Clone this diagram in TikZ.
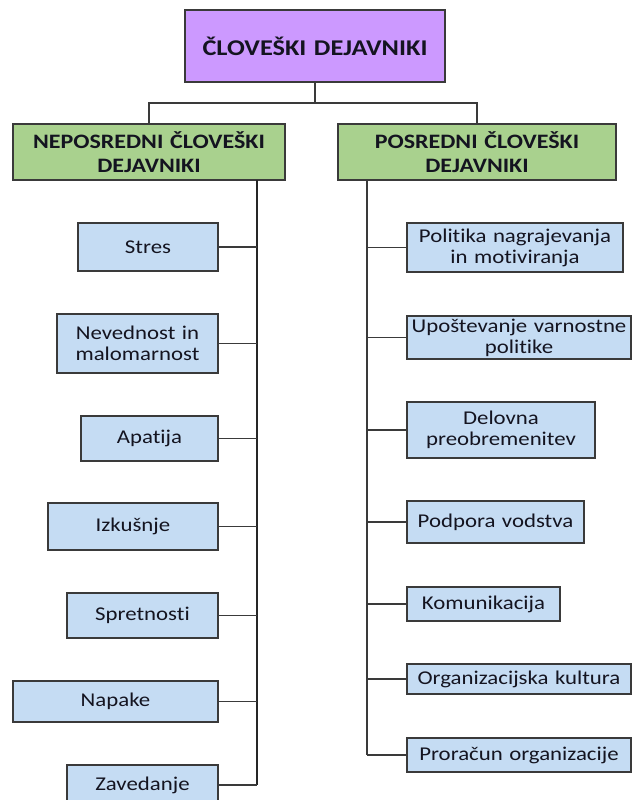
\documentclass[tikz,border=0pt]{standalone}
\usepackage{fontspec}
\setmainfont{Carlito}[FakeStretch=1.17,RawFeature={-liga}]
\definecolor{topfill}{HTML}{CC99FF}
\definecolor{greenfill}{HTML}{A9D18E}
\definecolor{bluefill}{HTML}{C5DCF3}
\definecolor{edge}{HTML}{3A3A3A}
\definecolor{txt}{HTML}{141420}
\tikzset{
  basebox/.style={draw=edge, line width=1.5pt, inner sep=0pt, align=center, text=txt},
  topbox/.style={basebox, fill=topfill, minimum width=260pt, minimum height=72pt, text width=250pt,
     font=\fontsize{22.5}{26}\selectfont\bfseries},
  greenbox/.style={basebox, fill=greenfill, minimum height=56pt, minimum width=#1, text width=#1-6pt,
     font=\fontsize{20.5}{24}\selectfont\bfseries},
  bluebox/.style n args={2}{basebox, fill=bluefill, minimum width=#1, minimum height=#2, text width=#1-4pt,
     font=\fontsize{19.5}{21}\selectfont},
  conn/.style={draw=edge, line width=1.5pt},
  trunk/.style={draw=black!85, line width=2pt}
}
\begin{document}
\begin{tikzpicture}[x=1pt,y=-1pt]
\useasboundingbox (0,0) rectangle (632,800);
\clip (0,0) rectangle (632,800);
\fill[white] (0,0) rectangle (632,800);
% top
\node[topbox] (top) at (315,46) {ČLOVEŠKI DEJAVNIKI};
\node[greenbox=272pt] (lg) at (149,152) {NEPOSREDNI ČLOVEŠKI\\DEJAVNIKI};
\node[greenbox=278pt] (rg) at (477,152) {POSREDNI ČLOVEŠKI\\DEJAVNIKI};
\coordinate (bar) at (315,103);
\draw[conn] (top.south) -- (bar);
\draw[conn] (lg.north) |- (bar) -| (rg.north);
% left boxes
\node[bluebox={140pt}{48pt}] (l1) at (148,247) {Stres};
\node[bluebox={161pt}{59pt}] (l2) at (137.5,343.5) {Nevednost in\\malomarnost};
\node[bluebox={137pt}{45pt}] (l3) at (149.5,438.5) {Apatija};
\node[bluebox={170pt}{47pt}] (l4) at (133,526.5) {Izkušnje};
\node[bluebox={151pt}{45pt}] (l5) at (142.5,615.5) {Spretnosti};
\node[bluebox={205pt}{41pt}] (l6) at (115.5,701.5) {Napake};
\node[bluebox={151pt}{40pt}] (l7) at (142.5,785) {Zavedanje};
% right boxes
\node[bluebox={216pt}{49pt}] (r1) at (515,247.5) {Politika nagrajevanja\\in motiviranja};
\node[bluebox={224pt}{43pt}] (r2) at (519,337.5) {Upoštevanje varnostne\\politike};
\node[bluebox={188pt}{56pt}] (r3) at (501,430) {Delovna\\preobremenitev};
\node[bluebox={177pt}{42pt}] (r4) at (495.5,522) {Podpora vodstva};
\node[bluebox={153pt}{34pt}] (r5) at (483.5,604) {Komunikacija};
\node[bluebox={224pt}{30pt}] (r6) at (519,679) {Organizacijska kultura};
\node[bluebox={224pt}{34pt}] (r7) at (519,755) {Proračun organizacije};
% trunks
\coordinate (lt) at (257,180);
\coordinate (rt) at (367,180);
\draw[trunk] (lt) -- (l7.east -| lt);
\draw[conn] (rt) -- (r7.west -| rt);
\foreach \n in {l1,l2,l3,l4,l5,l6,l7} \draw[conn] (\n.east) -- (\n.east -| lt);
\foreach \n in {r1,r2,r3,r4,r5,r6,r7} \draw[conn] (\n.west) -- (\n.west -| rt);
\end{tikzpicture}
\end{document}
